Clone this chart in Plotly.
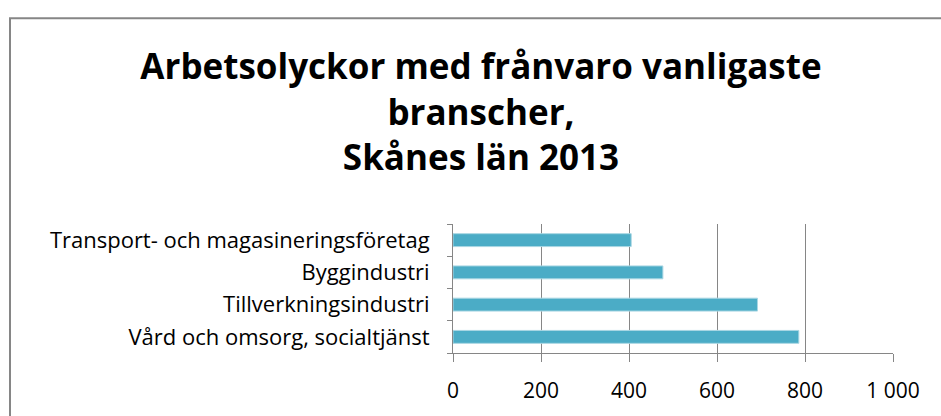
import plotly.graph_objects as go

categories = [
    "Vård och omsorg, socialtjänst",
    "Tillverkningsindustri",
    "Byggindustri",
    "Transport- och magasineringsföretag",
]
values = [786, 692, 477, 405]
x_tickvals = [0, 200, 400, 600, 800, 1000]
x_ticktext = ["0", "200", "400", "600", "800", "1 000"]
title_text = "Arbetsolyckor med frånvaro vanligaste<br>branscher,<br>Skånes län 2013"

W, H = 941, 416
ml, mr, mt, mb = 453, 48, 224, 61
pw, ph = W - ml - mr, H - mt - mb

font_fam = "Open Sans, sans-serif"

fig = go.Figure(
    go.Bar(
        x=values,
        y=categories,
        orientation="h",
        marker=dict(color="#4BACC6", line=dict(color="#A9D6E3", width=1)),
        width=0.4,
    )
)

def px_to_paper_x(px):
    return (px - ml) / pw

def py_to_paper_y(py):
    return (H - mb - py) / ph

fig.add_shape(
    type="rect", xref="paper", yref="paper",
    x0=px_to_paper_x(10), x1=px_to_paper_x(960),
    y0=py_to_paper_y(440), y1=py_to_paper_y(15),
    line=dict(color="#868686", width=2), fillcolor="rgba(0,0,0,0)", layer="below",
)

fig.update_layout(
    width=W, height=H,
    margin=dict(l=ml, r=mr, t=mt, b=mb),
    paper_bgcolor="white", plot_bgcolor="white",
    showlegend=False,
    title=dict(
        text=title_text,
        x=481 / W, xanchor="center", xref="container",
        y=1 - 79 / H, yanchor="top", yref="container",
        font=dict(family=font_fam, size=35, color="black", weight="bold"),
    ),
    font=dict(family=font_fam, color="black"),
    bargap=0.6,
)

fig.update_xaxes(
    range=[0, 1000],
    tickvals=x_tickvals, ticktext=x_ticktext,
    showgrid=True, gridcolor="#868686", gridwidth=1,
    showline=True, linecolor="#868686", linewidth=1,
    ticks="outside", ticklen=8, tickcolor="#868686",
    tickfont=dict(size=21, family=font_fam),
    ticklabelstandoff=11,
    zeroline=False, fixedrange=True,
)
fig.update_yaxes(
    categoryorder="array", categoryarray=categories,
    showline=True, linecolor="#868686", linewidth=1,
    ticks="outside", ticklen=5, tickcolor="#868686", tickson="boundaries",
    tickfont=dict(size=22, family=font_fam),
    ticklabelstandoff=18,
    showgrid=False, zeroline=False, fixedrange=True,
)

fig.write_html(
    "out.html",
    config={"displayModeBar": False},
    post_script="document.body.style.margin='0';document.body.style.overflow='hidden';",
)
